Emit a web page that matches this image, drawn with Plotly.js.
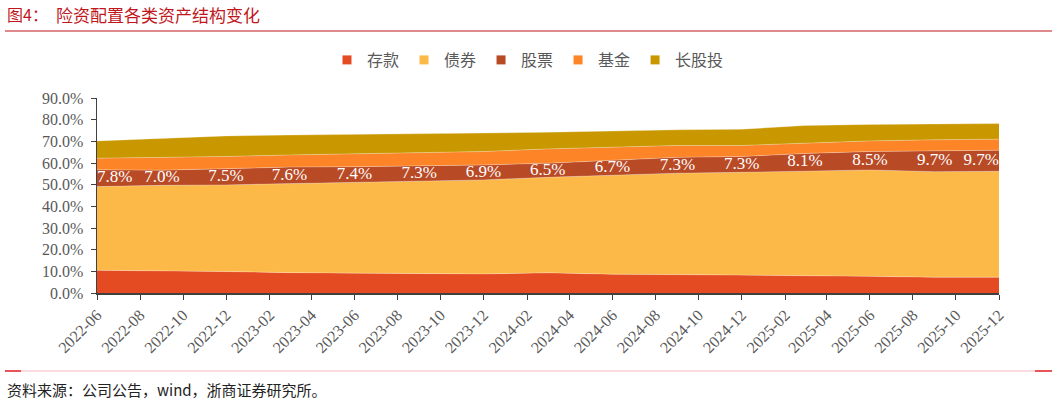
<!DOCTYPE html>
<html>
<head>
<meta charset="utf-8">
<script src="https://cdn.plot.ly/plotly-3.0.1.min.js"></script>
<style>
  html, body { margin: 0; padding: 0; background: #fff; }
  #chart { width: 1057px; height: 402px; }
</style>
</head>
<body>
<div id="chart"></div>
<script>
// quarterly points, % of total assets
var dates = ['2022-06-01','2022-09-01','2022-12-01','2023-03-01','2023-06-01','2023-09-01','2023-12-01',
             '2024-03-01','2024-06-01','2024-09-01','2024-12-01','2025-03-01','2025-06-01','2025-09-01','2025-12-01']
var deposit = [10.5, 10.3, 9.9, 9.4, 9.1, 9.0, 8.8, 9.3, 8.7, 8.5, 8.3, 8.0, 7.7, 7.3, 7.3]
var bond    = [38.6, 39.4, 40.0, 41.1, 41.8, 42.4, 43.4, 44.1, 45.8, 46.8, 47.4, 48.3, 49.1, 48.7, 48.9]
var stock   = [7.8, 7.0, 7.5, 7.6, 7.4, 7.3, 6.9, 6.5, 6.7, 7.3, 7.3, 8.1, 8.5, 9.7, 9.7]
var fund    = [5.3, 5.8, 5.6, 5.6, 5.9, 5.8, 6.2, 6.6, 6.1, 5.5, 5.1, 4.9, 4.9, 5.0, 5.1]
var ltEquity = [8.0, 9.0, 9.5, 9.2, 8.9, 8.8, 8.5, 7.7, 7.6, 7.2, 7.5, 8.0, 7.6, 7.4, 7.2]

var names = ['存款', '债券', '股票', '基金', '长股投']
var colors = ['#E54B22', '#FDB947', '#B94A26', '#FD8427', '#C99800']
var series = [deposit, bond, stock, fund, ltEquity]

var serif = '"Liberation Serif", "Times New Roman", "Noto Sans CJK SC", serif'
var cjk = '"Noto Sans CJK SC", "Liberation Serif", sans-serif'

var traces = series.map(function(s, i) {
  return {
    x: dates, y: s, name: names[i], type: 'scatter', mode: 'lines',
    stackgroup: 'one', fillcolor: colors[i],
    line: {width: 0.6, color: 'rgba(255,255,255,0.45)', shape: 'linear'},
    showlegend: false, hoverinfo: 'skip'
  }
})

// square legend keys, like the original
names.forEach(function(n, i) {
  traces.push({
    x: [null], y: [null], name: n, type: 'scatter', mode: 'markers',
    marker: {symbol: 'square', size: 9, color: colors[i]},
    showlegend: true, hoverinfo: 'skip'
  })
})

// stock labels sit in the middle of the stock band
var labelY = stock.map(function(v, i) { return deposit[i] + bond[i] + v / 2 })
var labelPos = stock.map(function(v, i) {
  if (i == 0) return 'middle right'
  if (i == stock.length - 1) return 'middle left'
  return 'middle center'
})
traces.push({
  x: dates, y: labelY, type: 'scatter', mode: 'text',
  text: stock.map(function(v) { return v.toFixed(1) + '%' }),
  textposition: labelPos,
  textfont: {family: serif, size: 17, color: '#ffffff'},
  showlegend: false, hoverinfo: 'skip'
})

// helpers: page pixels -> paper coords
var L = 97, R = 999, T = 98, B = 293
function px(x) { return (x - L) / (R - L) }
function py(y) { return (B - y) / (B - T) }

var layout = {
  width: 1057, height: 402,
  margin: {l: L, r: 1057 - R, t: T, b: 402 - B, pad: 0},
  paper_bgcolor: '#ffffff', plot_bgcolor: '#ffffff',
  showlegend: true,
  hovermode: false,
  legend: {
    orientation: 'h', x: px(528), xanchor: 'center', y: py(60), yanchor: 'middle',
    font: {family: cjk, size: 16, color: '#595959'},
    traceorder: 'normal', itemwidth: 30
  },
  xaxis: {
    type: 'date', range: ['2022-06-01', '2025-12-01'],
    tick0: '2022-06-01', dtick: 'M2', tickformat: '%Y-%m',
    tickangle: -45, ticks: 'outside', ticklen: 5, tickcolor: '#404040',
    showline: true, linecolor: '#404040', linewidth: 1.5,
    showgrid: false, zeroline: false,
    tickfont: {family: serif, size: 16, color: '#595959'}
  },
  yaxis: {
    range: [0, 90], dtick: 10, tickformat: '.1f', ticksuffix: '%',
    ticks: 'outside', ticklen: 5, tickcolor: '#404040', ticklabelstandoff: 4,
    showline: true, linecolor: '#404040', linewidth: 1.5,
    showgrid: false, zeroline: false,
    tickfont: {family: serif, size: 16, color: '#595959'}
  },
  annotations: [
    {xref: 'paper', yref: 'paper', x: px(5), y: py(14), xanchor: 'left', yanchor: 'middle',
     showarrow: false, text: '图4：',
     font: {family: cjk, size: 16, color: '#C0171D'}},
    {xref: 'paper', yref: 'paper', x: px(54), y: py(14), xanchor: 'left', yanchor: 'middle',
     showarrow: false, text: '险资配置各类资产结构变化',
     font: {family: cjk, size: 17, color: '#C0171D'}},
    {xref: 'paper', yref: 'paper', x: px(5), y: py(389), xanchor: 'left', yanchor: 'middle',
     showarrow: false, text: '资料来源：公司公告，wind，浙商证券研究所。',
     font: {family: cjk, size: 15, color: '#222222'}}
  ],
  shapes: [
    {type: 'line', xref: 'paper', yref: 'paper', x0: px(5), x1: px(1052), y0: py(31), y1: py(31),
     line: {color: '#C0171D', width: 1.2}},
    {type: 'line', xref: 'paper', yref: 'paper', x0: px(5), x1: px(1052), y0: py(371), y1: py(371),
     line: {color: '#F2B8BC', width: 1}},
    {type: 'line', xref: 'paper', yref: 'paper', x0: px(5), x1: px(21), y0: py(371), y1: py(371),
     line: {color: '#E0262C', width: 1.5}},
    {type: 'line', xref: 'paper', yref: 'paper', x0: px(1035), x1: px(1052), y0: py(371), y1: py(371),
     line: {color: '#E0262C', width: 1.5}}
  ]
}

Plotly.newPlot('chart', traces, layout, {displayModeBar: false, staticPlot: true})
</script>
</body>
</html>
